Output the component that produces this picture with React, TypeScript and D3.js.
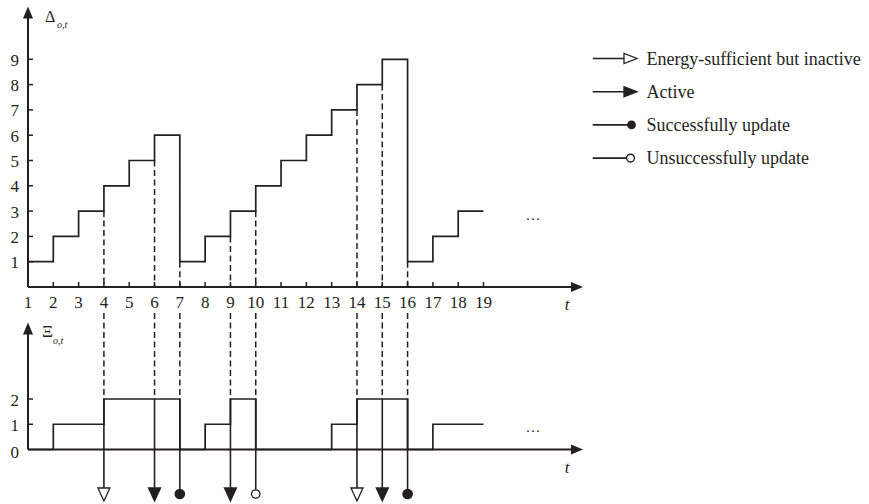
import React from "react";
import * as d3 from "d3";

// ---- data ----
const timeTicks = [1, 2, 3, 4, 5, 6, 7, 8, 9, 10, 11, 12, 13, 14, 15, 16, 17, 18, 19];
// value on interval [t, t+1] for t = 1..18
const deltaSteps = [1, 2, 3, 4, 5, 6, 1, 2, 3, 4, 5, 6, 7, 8, 9, 1, 2, 3];
const xiSteps = [0, 1, 1, 2, 2, 2, 0, 1, 2, 0, 0, 0, 1, 2, 2, 0, 1, 1];
const deltaTicks = [1, 2, 3, 4, 5, 6, 7, 8, 9];
const xiTicks = [0, 1, 2];
const eventTimes = [4, 6, 7, 9, 10, 14, 15, 16];
const eventTypes = ["inactive", "active", "success", "active", "fail", "inactive", "active", "success"];
const legendTypes = ["inactive", "active", "success", "fail"];
const legendLabels = [
  "Energy-sufficient but inactive",
  "Active",
  "Successfully update",
  "Unsuccessfully update",
];

const FONT = "'Liberation Serif', 'Times New Roman', Times, 'DejaVu Serif', serif";
const INK = "#231f20";

export default function App() {
  const x = d3.scaleLinear().domain([1, 19]).range([28, 483.5]);
  const yTop = d3.scaleLinear().domain([0, 9]).range([287, 59.3]);
  const yBot = d3.scaleLinear().domain([0, 2]).range([449.5, 399]);

  const topPts: [number, number][] = deltaSteps.map((v, i) => [timeTicks[i], v]);
  topPts.push([19, deltaSteps[deltaSteps.length - 1]]);
  const botPts: [number, number][] = xiSteps.map((v, i) => [timeTicks[i], v]);
  botPts.push([19, xiSteps[xiSteps.length - 1]]);

  const topLine = d3.line<[number, number]>().x((d) => x(d[0])).y((d) => yTop(d[1])).curve(d3.curveStepAfter);
  const botLine = d3.line<[number, number]>().x((d) => x(d[0])).y((d) => yBot(d[1])).curve(d3.curveStepAfter);

  const axisX0 = 28;
  const axisXEnd = 583;
  const topAxisY = yTop(0);
  const botAxisY = yBot(0);

  const arrowRight = (xe: number, y: number) => `M${xe},${y} L${xe - 12},${y - 5} L${xe - 12},${y + 5} Z`;
  const arrowUp = (xc: number, yt: number) => `M${xc},${yt} L${xc - 5},${yt + 12} L${xc + 5},${yt + 12} Z`;

  const marker = (type: string, cx: number, yStart: number) => {
    const baseY = 488;
    if (type === "inactive" || type === "active") {
      return (
        <g>
          <line x1={cx} x2={cx} y1={yStart} y2={baseY + 1} stroke={INK} strokeWidth={1.6} />
          <path
            d={`M${cx - 6},${baseY} L${cx + 6},${baseY} L${cx},${baseY + 13} Z`}
            fill={type === "active" ? INK : "#fff"}
            stroke={INK}
            strokeWidth={1.3}
          />
        </g>
      );
    }
    const cy = 494;
    return (
      <g>
        <line x1={cx} x2={cx} y1={yStart} y2={type === "fail" ? cy - 4.3 : cy} stroke={INK} strokeWidth={1.6} />
        <circle cx={cx} cy={cy} r={type === "fail" ? 4.2 : 4.7} fill={type === "fail" ? "#fff" : INK} stroke={INK} strokeWidth={1.3} />
      </g>
    );
  };

  const legendMarker = (type: string, y: number) => {
    const x0 = 592.7;
    if (type === "inactive" || type === "active") {
      return (
        <g>
          <line x1={x0} x2={625} y1={y} y2={y} stroke={INK} strokeWidth={1.6} />
          <path
            d={`M${624},${y - 5} L${624},${y + 5} L${637},${y} Z`}
            fill={type === "active" ? INK : "#fff"}
            stroke={INK}
            strokeWidth={1.3}
          />
        </g>
      );
    }
    if (type === "success") {
      return (
        <g>
          <line x1={x0} x2={631} y1={y} y2={y} stroke={INK} strokeWidth={1.6} />
          <circle cx={631.5} cy={y} r={4.4} fill={INK} />
        </g>
      );
    }
    return (
      <g>
        <line x1={x0} x2={626.5} y1={y} y2={y} stroke={INK} strokeWidth={1.6} />
        <circle cx={630.5} cy={y} r={3.9} fill="#fff" stroke={INK} strokeWidth={1.4} />
      </g>
    );
  };

  const legendRowY = (i: number) => 58.5 + i * 33.2;

  return (
    <svg
      width={869}
      height={504}
      style={{ position: "absolute", left: 0, top: 0, background: "#fff", fontFamily: FONT }}
    >
      <rect x={0} y={0} width={869} height={504} fill="#fff" />

      {/* ---------- top panel ---------- */}
      {eventTimes.map((t, i) => {
        const lo = Math.min(deltaSteps[t - 2], deltaSteps[t - 1]);
        return (
          <line
            key={"td" + i}
            x1={x(t)}
            x2={x(t)}
            y1={yTop(lo)}
            y2={topAxisY}
            stroke={INK}
            strokeWidth={1.5}
            strokeDasharray="6,3.5"
          />
        );
      })}
      <path d={topLine(topPts) || ""} fill="none" stroke={INK} strokeWidth={1.7} />
      <line x1={axisX0} x2={axisX0} y1={topAxisY} y2={12} stroke={INK} strokeWidth={2} />
      <path d={arrowUp(axisX0, 6.5)} fill={INK} />
      <line x1={axisX0} x2={axisXEnd - 6} y1={topAxisY} y2={topAxisY} stroke={INK} strokeWidth={2} />
      <path d={arrowRight(axisXEnd, topAxisY)} fill={INK} />
      {deltaTicks.map((v) => (
        <g key={"yt" + v}>
          <line x1={axisX0} x2={axisX0 + 5} y1={yTop(v)} y2={yTop(v)} stroke={INK} strokeWidth={1.5} />
          <text x={19} y={yTop(v) + 6.5} fontSize={17} textAnchor="end" fill={INK}>
            {v}
          </text>
        </g>
      ))}
      {timeTicks.map((t) => (
        <g key={"xt" + t}>
          {t > 1 && <line x1={x(t)} x2={x(t)} y1={topAxisY} y2={topAxisY - 5} stroke={INK} strokeWidth={1.5} />}
          <text x={x(t)} y={308} fontSize={17} textAnchor="middle" fill={INK}>
            {t}
          </text>
        </g>
      ))}
      <text x={45} y={22} fontSize={16} fill={INK}>Δ</text>
      <text x={57} y={28} fontSize={10} fontStyle="italic" fill={INK}>o,t</text>
      <text x={567} y={310} fontSize={17} fontStyle="italic" textAnchor="middle" fill={INK}>t</text>
      <text x={533} y={220} fontSize={15} textAnchor="middle" fill={INK}>…</text>

      {/* ---------- bottom panel ---------- */}
      {eventTimes.map((t, i) => {
        const hi = Math.max(xiSteps[t - 2], xiSteps[t - 1]);
        return (
          <g key={"bd" + i}>
            <line
              x1={x(t)}
              x2={x(t)}
              y1={313}
              y2={yBot(hi)}
              stroke={INK}
              strokeWidth={1.5}
              strokeDasharray="6,3.5"
            />
            {marker(eventTypes[i], x(t), yBot(hi))}
          </g>
        );
      })}
      <path d={botLine(botPts) || ""} fill="none" stroke={INK} strokeWidth={1.7} />
      <line x1={axisX0} x2={axisX0} y1={botAxisY} y2={328} stroke={INK} strokeWidth={2} />
      <path d={arrowUp(axisX0, 322.5)} fill={INK} />
      <line x1={axisX0} x2={axisXEnd - 6} y1={botAxisY} y2={botAxisY} stroke={INK} strokeWidth={2} />
      <path d={arrowRight(axisXEnd, botAxisY)} fill={INK} />
      {xiTicks.map((v) => (
        <g key={"by" + v}>
          {v > 0 && <line x1={axisX0} x2={axisX0 + 5} y1={yBot(v)} y2={yBot(v)} stroke={INK} strokeWidth={1.5} />}
          <text x={19} y={yBot(v) + (v === 0 ? 8.5 : 6.5)} fontSize={17} textAnchor="end" fill={INK}>
            {v}
          </text>
        </g>
      ))}
      <text x={42} y={336.5} fontSize={17} fill={INK}>Ξ</text>
      <text x={53} y={344} fontSize={10} fontStyle="italic" fill={INK}>o,t</text>
      <text x={567} y={473} fontSize={17} fontStyle="italic" textAnchor="middle" fill={INK}>t</text>
      <text x={533} y={432} fontSize={15} textAnchor="middle" fill={INK}>…</text>

      {/* ---------- legend ---------- */}
      {legendTypes.map((type, i) => (
        <g key={"lg" + i}>
          {legendMarker(type, legendRowY(i))}
          <text x={646.5} y={legendRowY(i) + 6} fontSize={18} fill={INK}>
            {legendLabels[i]}
          </text>
        </g>
      ))}
    </svg>
  );
}
